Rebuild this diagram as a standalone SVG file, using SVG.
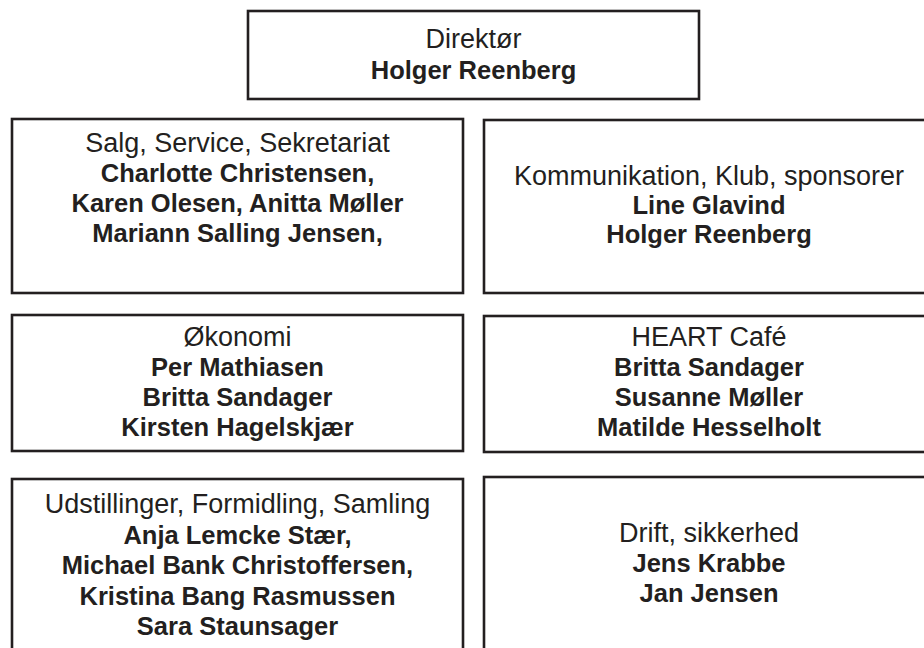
<svg xmlns="http://www.w3.org/2000/svg" width="924" height="648" viewBox="0 0 924 648">
<style>
.box{fill:#fff;stroke:#231f20;stroke-width:2.6}
text{font-family:"Liberation Sans",Arial,sans-serif;fill:#231f20;text-anchor:middle}
.r{font-size:27px;font-weight:normal}
.b{font-size:25.5px;font-weight:bold}
</style>
<rect width="924" height="648" fill="#fff"/>
<g id="connectors"></g>
<g id="direktor">
<rect class="box" x="248" y="11" width="451" height="88"/>
<text class="r" x="473.5" y="48">Direktør</text>
<text class="b" x="473.5" y="79">Holger Reenberg</text>
</g>
<g id="salg">
<rect class="box" x="12" y="119" width="451" height="174"/>
<text class="r" x="237.5" y="152">Salg, Service, Sekretariat</text>
<text class="b" x="237.5" y="182">Charlotte Christensen,</text>
<text class="b" x="237.5" y="212">Karen Olesen, Anitta Møller</text>
<text class="b" x="237.5" y="242">Mariann Salling Jensen,</text>
</g>
<g id="kommunikation">
<rect class="box" x="484" y="120" width="451" height="173"/>
<text class="r" x="709" y="185">Kommunikation, Klub, sponsorer</text>
<text class="b" x="709" y="214">Line Glavind</text>
<text class="b" x="709" y="243">Holger Reenberg</text>
</g>
<g id="okonomi">
<rect class="box" x="12" y="315" width="451" height="136"/>
<text class="r" x="237.5" y="346">Økonomi</text>
<text class="b" x="237.5" y="376">Per Mathiasen</text>
<text class="b" x="237.5" y="406">Britta Sandager</text>
<text class="b" x="237.5" y="436">Kirsten Hagelskjær</text>
</g>
<g id="cafe">
<rect class="box" x="484" y="316" width="451" height="136"/>
<text class="r" x="709" y="346">HEART Café</text>
<text class="b" x="709" y="376">Britta Sandager</text>
<text class="b" x="709" y="406">Susanne Møller</text>
<text class="b" x="709" y="436">Matilde Hesselholt</text>
</g>
<g id="udstillinger">
<rect class="box" x="12" y="479" width="451" height="200"/>
<text class="r" x="237.5" y="513">Udstillinger, Formidling, Samling</text>
<text class="b" x="237.5" y="543.5">Anja Lemcke Stær,</text>
<text class="b" x="237.5" y="574">Michael Bank Christoffersen,</text>
<text class="b" x="237.5" y="604.5">Kristina Bang Rasmussen</text>
<text class="b" x="237.5" y="635">Sara Staunsager</text>
</g>
<g id="drift">
<rect class="box" x="484" y="477" width="451" height="200"/>
<text class="r" x="709" y="542">Drift, sikkerhed</text>
<text class="b" x="709" y="572">Jens Krabbe</text>
<text class="b" x="709" y="602">Jan Jensen</text>
</g>
</svg>
